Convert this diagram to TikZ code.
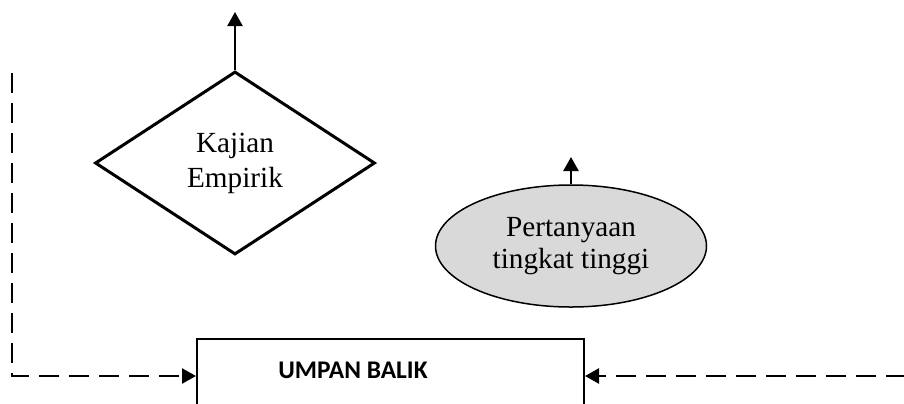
\documentclass[tikz,border=0pt]{standalone}
\usepackage{fontspec}
\setmainfont{Liberation Serif}
\newfontfamily\calibri{Carlito}
\usepackage{tikz}
\usetikzlibrary{positioning,calc,arrows.meta,shapes.geometric}
\tikzset{dpix/.style={x=0.5pt, y=-0.5pt}}
\tikzset{kdiam/.style={diamond, draw, line width=1.5pt, inner sep=0pt, minimum width=140pt, minimum height=91.5pt, align=center, font=\fontsize{14.6}{17.5}\selectfont}}
\tikzset{qell/.style={ellipse, draw, line width=0.75pt, fill=black!15, inner sep=0pt, minimum width=135.5pt, minimum height=61pt, align=center, font=\fontsize{14.6}{16}\selectfont}}
\tikzset{fbox/.style={rectangle, draw, line width=1pt, inner sep=0pt, minimum width=193.5pt, minimum height=52pt}}
\tikzset{arr1/.style={draw, line width=1.2pt, -{Triangle[length=7pt, width=7.5pt]}}}
\tikzset{darr/.style={draw, line width=1.2pt, dash pattern=on 10pt off 5pt, -{Triangle[length=7pt, width=7.5pt]}}}

\begin{document}
\begin{tikzpicture}[dpix]
    \useasboundingbox (0,0) rectangle (904,403);
    \clip (0,0) rectangle (904,403);
			\node[kdiam] (K) at (235,163) {Kajian\\Empirik};
			\node[qell] (Q) at (571,246) {Pertanyaan\\tingkat tinggi};
			\node[fbox] (U) at (390.5,391) {};
			\node[font=\calibri\bfseries\fontsize{12.7}{15}\selectfont] (Ut) at (353,370) {UMPAN BALIK};
%
			\coordinate (Kup) at (235,12);
			\coordinate (Qup) at (571,157);
            \draw[arr1] (K.north) -- (Kup);
            \draw[arr1] (Q.north) -- (Qup);
%
			% umpan balik, kiri dan kanan
			\coordinate (L0) at (12,73);
			\coordinate (L1) at (12,376);
			\coordinate (R0) at (906,376);
			\draw[darr] (L0) -- (L1) -- (L1 -| U.west);
			\draw[darr] (R0) -- (R0 -| U.east);
		\end{tikzpicture}
\end{document}
